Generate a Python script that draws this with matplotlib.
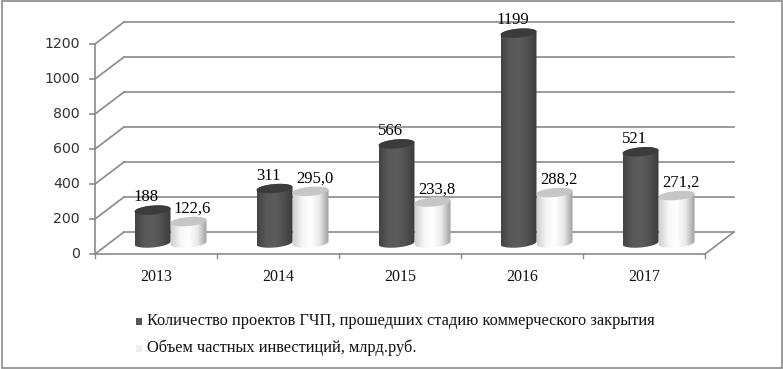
import numpy as np
import matplotlib
matplotlib.use('Agg')
import matplotlib.pyplot as plt
from matplotlib.colors import LinearSegmentedColormap
from matplotlib.patches import Polygon, Rectangle

years = ['2013', '2014', '2015', '2016', '2017']
projects = [188, 311, 566, 1199, 521]
investments = [122.6, 295.0, 233.8, 288.2, 271.2]
investment_labels = ['122,6', '295,0', '233,8', '288,2', '271,2']
y_ticks = [0, 200, 400, 600, 800, 1000, 1200]
legend_names = ['Количество проектов ГЧП, прошедших стадию коммерческого закрытия',
                'Объем частных инвестиций, млрд.руб.']

W, H = 783, 369
# pixels per category and per unit on the front plane of the 3d box
px_x = 122.0
px_y = 0.175
x0_px, y0_px = 95, 254
depth_x = 29 / px_x
depth_y = 22 / px_y
half_w = 18 / px_x
ell_h = 4.5 / px_y
tilt = 1.5 / px_y

grid_col = '#8a8a8a'
serif = 'Liberation Serif'

fig = plt.figure(figsize=(W / 100, H / 100), dpi=100)
ax = fig.add_axes([0, 0, 1, 1])
ax.axis('off')
xlim = (-x0_px / px_x, (W - x0_px) / px_x)
ylim = ((y0_px - H) / px_y, y0_px / px_y)

dark_cm = LinearSegmentedColormap.from_list('d', ['#444444', '#585858', '#5c5c5c', '#505050', '#3c3c3c'])
light_cm = LinearSegmentedColormap.from_list('l', ['#d0d0d0', '#f6f6f6', '#ffffff', '#e8e8e8', '#a0a0a0'])


def ellipse_arc(cx, cy, t):
    return np.column_stack([cx + half_w * np.cos(t),
                            cy + ell_h * np.sin(t) + tilt * np.cos(t)])


def cylinder(cx, val, cmap, top_col, z):
    base = depth_y / 2
    lower = ellipse_arc(cx, base, np.linspace(np.pi, 2 * np.pi, 40))
    upper = ellipse_arc(cx, base + val, np.linspace(0, np.pi, 40))
    body = Polygon(np.vstack([lower, upper]), closed=True, fc='none', ec='none', zorder=z)
    ax.add_patch(body)
    grad = np.linspace(0, 1, 64).reshape(1, -1)
    im = ax.imshow(grad, cmap=cmap, aspect='auto', zorder=z,
                   extent=(cx - half_w, cx + half_w, base - 2 * ell_h, base + val + 2 * ell_h))
    im.set_clip_path(body)
    top = ellipse_arc(cx, base + val, np.linspace(0, 2 * np.pi, 80))
    ax.add_patch(Polygon(top, closed=True, fc=top_col, ec='none', zorder=z + 0.1))


# walls
for v in y_ticks:
    ax.plot([0, depth_x], [v, v + depth_y], color=grid_col, lw=1.2, zorder=1)
    ax.plot([depth_x, 5 + depth_x], [v + depth_y, v + depth_y], color=grid_col, lw=1.2, zorder=1)
    ax.plot([-5 / px_x, 0], [v, v], color=grid_col, lw=1.2, zorder=1)
    ax.text(-15 / px_x, v, str(v), ha='right', va='center', fontsize=10.2, color='#333333',
            family='DejaVu Sans')
ax.plot([0, 0], [0, 1200], color=grid_col, lw=1.2, zorder=1)
ax.plot([0, 5], [0, 0], color=grid_col, lw=1.2, zorder=1)
ax.plot([5, 5 + depth_x], [0, depth_y], color=grid_col, lw=1.2, zorder=1)
for i in range(6):
    ax.plot([i, i], [0, -20], color=grid_col, lw=1.0, zorder=1)

# bars and their labels
for i, year in enumerate(years):
    mid = i + 0.5 + depth_x / 2
    cx_dark = mid - half_w
    cx_light = mid + half_w
    cylinder(cx_dark, projects[i], dark_cm, '#3b3b3b', 3 + i)
    cylinder(cx_light, investments[i], light_cm, '#c6c6c6', 3.5 + i)
    ax.text(cx_dark - 6 / px_x, depth_y / 2 + projects[i] + 13 / px_y, str(projects[i]),
            ha='center', va='center', fontsize=12, family=serif, color='black', zorder=20)
    ax.text(cx_light + 4 / px_x, depth_y / 2 + investments[i] + 12.5 / px_y, investment_labels[i],
            ha='center', va='center', fontsize=12, family=serif, color='black', zorder=20)
    ax.text(i + 0.5, -131, year, ha='center', va='center', fontsize=11.5, family=serif, color='#111111')

# legend
ax.add_patch(Rectangle((136 / W, 1 - 325 / H), 6 / W, 7 / H, transform=ax.transAxes, fc='#555555', ec='none'))
ax.add_patch(Rectangle((136 / W, 1 - 352 / H), 6 / W, 7 / H, transform=ax.transAxes, fc='#eeeeee', ec='none'))
ax.text(147 / W, 1 - 321 / H, legend_names[0], transform=ax.transAxes, ha='left', va='center',
        fontsize=11.8, family=serif, color='#111111')
ax.text(147 / W, 1 - 348 / H, legend_names[1], transform=ax.transAxes, ha='left', va='center',
        fontsize=11.8, family=serif, color='#111111')

# outer frame
ax.add_patch(Rectangle((1.5 / W, 1 - 367.5 / H), 780.5 / W, 367 / H, transform=ax.transAxes,
                       fc='none', ec='#8a8a8a', lw=1.2, zorder=30))

ax.set_xlim(xlim)
ax.set_ylim(ylim)
fig.savefig('out.png', dpi=100)
